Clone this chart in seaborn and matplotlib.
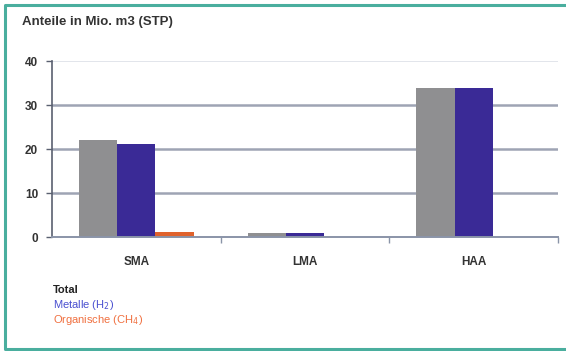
import matplotlib
matplotlib.use("Agg")
import matplotlib.pyplot as plt
import seaborn as sns
import pandas as pd
from matplotlib.lines import Line2D

# Volumes per plant (million m3, STP)
categories = ["SMA", "LMA", "HAA"]
total = [22.0, 0.8, 33.8]
metalle = [21.2, 0.8, 33.8]
organische = [1.1, 0.0, 0.0]
series = ["Total", "Metalle (H$_2$)", "Organische (CH$_4$)"]
colors = ["#8f8f91", "#3a2a96", "#e0622c"]
yticks = [0, 10, 20, 30, 40]

rows = []
for name, vals in zip(series, [total, metalle, organische]):
    for cat, v in zip(categories, vals):
        rows.append({"Anlage": cat, "Serie": name, "Wert": v})
df = pd.DataFrame(rows)

sns.set_theme(style="white")
plt.rcParams["font.family"] = ["Liberation Sans", "DejaVu Sans"]

fig = plt.figure(figsize=(5.66, 3.51), dpi=100)
ax = fig.add_axes([52 / 566, 1 - 237 / 351, (558 - 52) / 566, (237 - 61) / 351])

sns.barplot(data=df, x="Anlage", y="Wert", hue="Serie", order=categories,
            hue_order=series, palette=colors, width=0.68, saturation=1,
            linewidth=0, ax=ax, legend=False)

ax.set_xlim(-0.5, 2.5)
ax.set_ylim(0, 40)
ax.set_yticks(yticks)
ax.set_yticklabels([str(t) for t in yticks], fontsize=8.5, fontweight="bold",
                   color="#333333")
ax.set_xticks(range(len(categories)))
ax.set_xticklabels(categories, fontsize=8.5, fontweight="bold", color="#333333")
ax.set_xlabel("")
ax.set_ylabel("")

for t in yticks[1:-1]:
    ax.axhline(t, color="#9ea4b4", linewidth=1.8, zorder=0)
ax.axhline(40, color="#dde0e8", linewidth=1.2, zorder=0)

for s in ["top", "right"]:
    ax.spines[s].set_visible(False)
ax.spines["left"].set_color("#5a6070")
ax.spines["left"].set_linewidth(1.2)
ax.spines["bottom"].set_color("#8a94a8")
ax.spines["bottom"].set_linewidth(1.4)

ax.tick_params(axis="y", length=4, width=1, color="#5a6070", pad=6, left=True)
ax.tick_params(axis="x", length=0, pad=14)
ax.set_xticks([0.5, 1.5, 2.5], minor=True)
ax.tick_params(axis="x", which="minor", length=4, color="#8a94a8", bottom=True)

fig.text(22 / 566, 1 - 22 / 351, "Anteile in Mio. m3 (STP)", fontsize=9.5,
         fontweight="bold", color="#333333", va="center", ha="left")

legend_y = [290, 305, 320]
for name, col, y in zip(series, ["#222222", "#4a50d0", "#f07040"], legend_y):
    fig.text(53 / 566, 1 - y / 351, name, fontsize=8, color=col,
             fontweight="bold" if name == "Total" else "normal",
             va="center", ha="left")

# Teal frame: top, left and bottom edges, running off the right side
x0, y_top, y_bot = 5 / 566, 1 - 5 / 351, 1 - 349 / 351
frame = dict(color="#4aae9e", linewidth=2.2, transform=fig.transFigure,
             solid_capstyle="projecting")
fig.add_artist(Line2D([1.05, x0, x0, 1.05], [y_top, y_top, y_bot, y_bot], **frame))

fig.savefig("out.png", dpi=100)
